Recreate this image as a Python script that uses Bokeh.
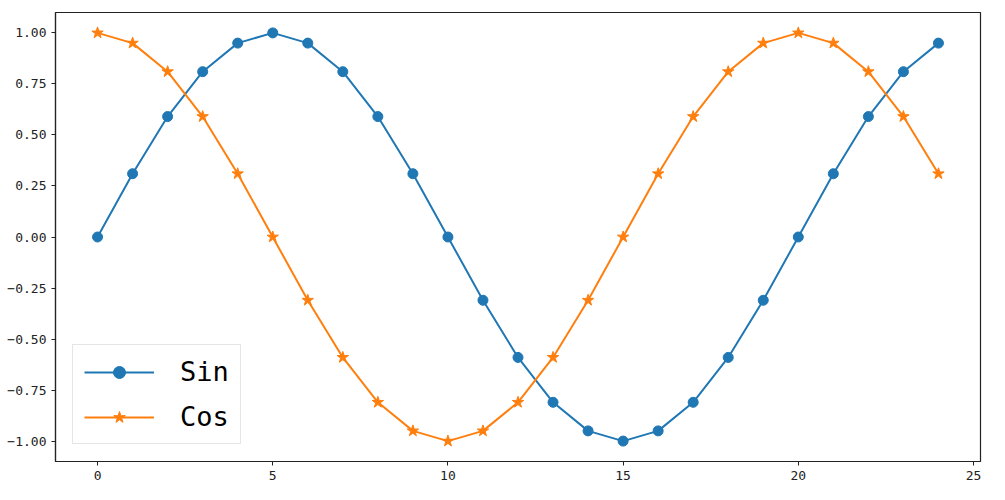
from bokeh.plotting import figure
from bokeh.models import FixedTicker, CustomJSTickFormatter, Range1d, Legend
from bokeh.embed import file_html
from bokeh.resources import INLINE

x = list(range(25))
sin_vals = [0.0, 0.31, 0.59, 0.81, 0.95, 1.0, 0.95, 0.81, 0.59, 0.31, 0.0, -0.31, -0.59,
            -0.81, -0.95, -1.0, -0.95, -0.81, -0.59, -0.31, 0.0, 0.31, 0.59, 0.81, 0.95]
cos_vals = [1.0, 0.95, 0.81, 0.59, 0.31, 0.0, -0.31, -0.59, -0.81, -0.95, -1.0, -0.95, -0.81,
            -0.59, -0.31, 0.0, 0.31, 0.59, 0.81, 0.95, 1.0, 0.95, 0.81, 0.59, 0.31]
x_ticks = [0, 5, 10, 15, 20, 25]
y_ticks = [-1.0, -0.75, -0.5, -0.25, 0.0, 0.25, 0.5, 0.75, 1.0]
labels = ["Sin", "Cos"]

FONT = "DejaVu Sans Mono"

p = figure(width=997, height=492, output_backend="svg", toolbar_location=None,
           x_range=Range1d(-1.2, 25.2), y_range=Range1d(-1.1, 1.1),
           min_border_left=55, min_border_right=17, min_border_top=12, min_border_bottom=31)
p.xgrid.visible = False
p.ygrid.visible = False
p.outline_line_color = "#222222"
p.outline_line_width = 1.2
p.background_fill_color = "white"
p.border_fill_color = "white"

for ax in (p.xaxis[0], p.yaxis[0]):
    ax.axis_line_color = "#222222"
    ax.axis_line_width = 1.2
    ax.major_tick_line_color = "#222222"
    ax.major_tick_in = 0
    ax.major_tick_out = 4
    ax.minor_tick_line_color = None
    ax.major_label_text_font = FONT
    ax.major_label_text_font_size = "13px"
    ax.major_label_text_color = "#222222"
    ax.major_label_standoff = 5

p.xaxis.ticker = FixedTicker(ticks=x_ticks)
p.yaxis.ticker = FixedTicker(ticks=y_ticks)
p.yaxis.formatter = CustomJSTickFormatter(code="""
    const s = Math.abs(tick).toFixed(2);
    return (tick < -1e-9 ? '\u2212' : '') + s;
""")

c1 = "#1f77b4"
c2 = "#ff7f0e"
l1 = p.line(x, sin_vals, line_color=c1, line_width=2)
m1 = p.scatter(x, sin_vals, marker="circle", size=10, fill_color=c1, line_color=c1)
l2 = p.line(x, cos_vals, line_color=c2, line_width=2)
m2 = p.scatter(x, cos_vals, marker="star", size=12, fill_color=c2, line_color=c2)

legend = Legend(items=[(labels[0], [l1, m1]), (labels[1], [l2, m2])],
                location=(17, 17))
legend.label_text_font = FONT
legend.label_text_font_size = "27px"
legend.label_text_color = "black"
legend.glyph_width = 70
legend.glyph_height = 30
legend.label_height = 30
legend.label_standoff = 26
legend.spacing = 14
legend.padding = 11
legend.margin = 0
legend.border_line_color = "#cccccc"
legend.border_line_width = 1
legend.background_fill_alpha = 0.8
p.add_layout(legend, "center")

open("out.html", "w").write(file_html(p, INLINE))
